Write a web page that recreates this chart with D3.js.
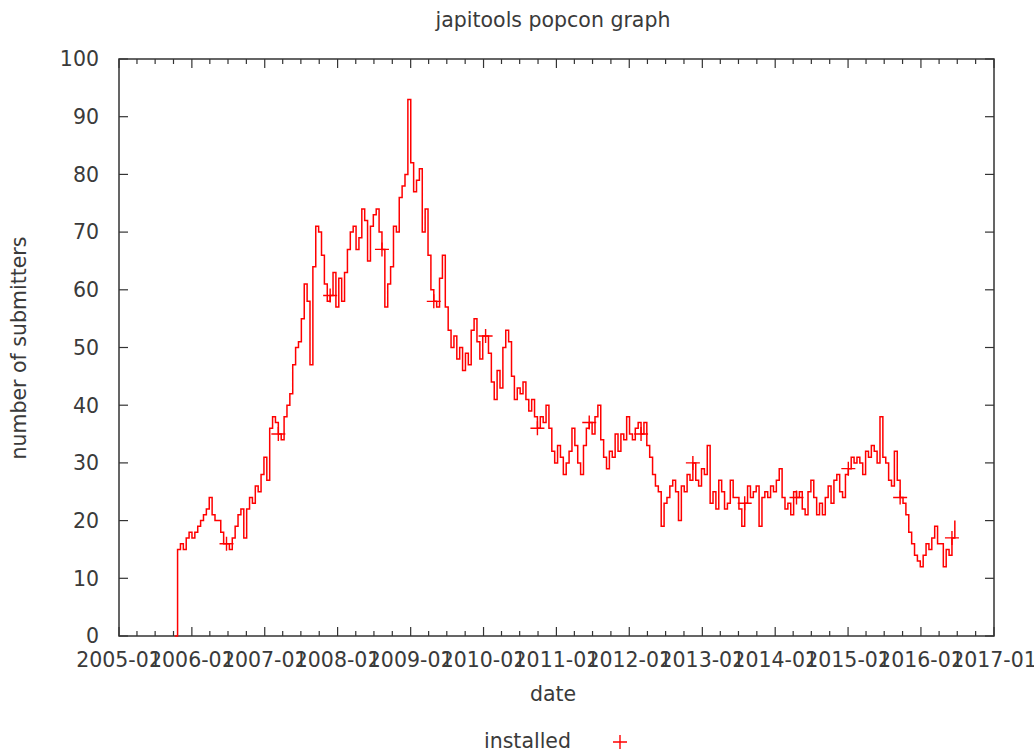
<!DOCTYPE html>
<html>
<head>
<meta charset="utf-8">
<script src="https://cdn.jsdelivr.net/npm/d3@7"></script>
<style>
  body { margin: 0; background: #fff; }
  text { font-family: "DejaVu Sans", sans-serif; fill: #3a3a3a; }
</style>
</head>
<body>
<script>
// Data: popcon "installed" counts, one sample every ~14.4 days from early Oct 2005
const startDate = new Date(2005, 9, 7);
const stepDays = 14.42;
const installed = [
  0, 15, 16, 15, 17, 18, 17, 18, 19, 20,
  21, 22, 24, 21, 20, 20, 18, 16, 16, 15,
  17, 19, 21, 22, 17, 22, 24, 23, 26, 25,
  28, 31, 27, 36, 38, 37, 35, 34, 38, 40,
  42, 47, 50, 51, 55, 61, 58, 47, 64, 71,
  70, 66, 61, 58, 59, 63, 57, 62, 58, 63,
  67, 70, 71, 67, 69, 74, 72, 65, 71, 73,
  74, 70, 67, 57, 61, 64, 71, 70, 76, 78,
  80, 93, 82, 77, 79, 81, 70, 74, 66, 60,
  58, 57, 62, 66, 57, 53, 50, 52, 48, 50,
  46, 49, 47, 53, 55, 51, 48, 52, 52, 49,
  44, 41, 46, 43, 50, 53, 51, 45, 41, 43,
  42, 44, 41, 39, 41, 38, 36, 38, 37, 40,
  36, 32, 30, 33, 31, 28, 30, 32, 36, 33,
  30, 28, 33, 36, 37, 35, 38, 40, 34, 31,
  29, 32, 31, 35, 32, 35, 34, 38, 35, 34,
  36, 37, 35, 37, 33, 31, 28, 26, 25, 19,
  23, 24, 26, 27, 25, 20, 26, 25, 28, 27,
  30, 27, 26, 29, 28, 33, 23, 25, 22, 27,
  25, 22, 23, 27, 24, 24, 22, 19, 23, 26,
  24, 25, 26, 19, 24, 25, 24, 26, 25, 27,
  29, 24, 22, 23, 21, 25, 24, 25, 22, 21,
  25, 27, 24, 21, 23, 21, 24, 26, 23, 27,
  28, 25, 24, 28, 29, 31, 30, 31, 30, 28,
  32, 31, 33, 32, 30, 38, 31, 30, 27, 26,
  32, 27, 24, 23, 21, 18, 16, 14, 13, 12,
  14, 16, 15, 17, 19, 16, 16, 12, 15, 14,
  17, 20
];
const pointEvery = 18;
const yTicks = [0, 10, 20, 30, 40, 50, 60, 70, 80, 90, 100];
const xTickYears = d3.range(2005, 2018);

const W = 1034, H = 749;
const margin = { top: 59, right: 40, bottom: 113, left: 119 };
const width = W - margin.left - margin.right;
const height = H - margin.top - margin.bottom;
const fontSize = "20.5px";

const svg = d3.select("body").append("svg")
  .attr("width", W)
  .attr("height", H);

const g = svg.append("g")
  .attr("transform", `translate(${margin.left},${margin.top})`);

const data = installed.map((v, i) => ({
  date: new Date(startDate.getTime() + i * stepDays * 864e5),
  value: v
}));

const x = d3.scaleTime()
  .domain([new Date(2005, 0, 1), new Date(2017, 0, 1)])
  .range([0, width]);
const y = d3.scaleLinear().domain([0, 100]).range([height, 0]);

const axisColor = "#333";
const majorTicks = xTickYears.map(yr => new Date(yr, 0, 1));
const minorTicks = d3.timeMonth.every(3).range(new Date(2005, 0, 1), new Date(2017, 0, 2))
  .filter(d => d.getMonth() !== 0);

// inward ticks, mirrored on top and right (gnuplot style)
const ticks = g.append("g").attr("stroke", axisColor).attr("stroke-width", 1.2);
majorTicks.forEach(d => {
  ticks.append("line").attr("x1", x(d)).attr("x2", x(d)).attr("y1", height).attr("y2", height - 9);
  ticks.append("line").attr("x1", x(d)).attr("x2", x(d)).attr("y1", 0).attr("y2", 9);
});
minorTicks.forEach(d => {
  ticks.append("line").attr("x1", x(d)).attr("x2", x(d)).attr("y1", height).attr("y2", height - 5);
  ticks.append("line").attr("x1", x(d)).attr("x2", x(d)).attr("y1", 0).attr("y2", 5);
});
yTicks.forEach(v => {
  ticks.append("line").attr("x1", 0).attr("x2", 9).attr("y1", y(v)).attr("y2", y(v));
  ticks.append("line").attr("x1", width).attr("x2", width - 9).attr("y1", y(v)).attr("y2", y(v));
});

// tick labels
g.append("g").selectAll("text")
  .data(yTicks)
  .join("text")
  .attr("x", -20)
  .attr("y", d => y(d))
  .attr("dy", "0.36em")
  .attr("text-anchor", "end")
  .style("font-size", fontSize)
  .text(d => d);

g.append("g").selectAll("text")
  .data(majorTicks)
  .join("text")
  .attr("x", d => x(d))
  .attr("y", height + 31)
  .attr("text-anchor", "middle")
  .style("font-size", fontSize)
  .text(d3.timeFormat("%Y-%m"));

// frame
g.append("rect")
  .attr("width", width)
  .attr("height", height)
  .attr("fill", "none")
  .attr("stroke", axisColor)
  .attr("stroke-width", 1.5);

// series line
const line = d3.line()
  .x(d => x(d.date))
  .y(d => y(d.value))
  .curve(d3.curveStepAfter);

g.append("path")
  .datum(data)
  .attr("fill", "none")
  .attr("stroke", "#ff0000")
  .attr("stroke-width", 1.5)
  .attr("d", line);

// point markers
g.append("g").selectAll("path")
  .data(data.filter((d, i) => i > 0 && i % pointEvery === 0))
  .join("path")
  .attr("transform", d => `translate(${x(d.date)},${y(d.value)})`)
  .attr("d", "M-7,0H7M0,-7V7")
  .attr("stroke", "#ff0000")
  .attr("stroke-width", 1.4);

// titles
svg.append("text")
  .attr("x", 553)
  .attr("y", 27)
  .attr("text-anchor", "middle")
  .style("font-size", fontSize)
  .text("japitools popcon graph");

svg.append("text")
  .attr("x", 553)
  .attr("y", 701)
  .attr("text-anchor", "middle")
  .style("font-size", fontSize)
  .text("date");

svg.append("text")
  .attr("transform", "rotate(-90)")
  .attr("x", -348)
  .attr("y", 26)
  .attr("text-anchor", "middle")
  .style("font-size", fontSize)
  .text("number of submitters");

// legend
svg.append("text")
  .attr("x", 571)
  .attr("y", 748)
  .attr("text-anchor", "end")
  .style("font-size", fontSize)
  .text("installed");

svg.append("path")
  .attr("transform", "translate(620,742)")
  .attr("d", "M-7,0H7M0,-7V7")
  .attr("stroke", "#ff0000")
  .attr("stroke-width", 1.4);
</script>
</body>
</html>
